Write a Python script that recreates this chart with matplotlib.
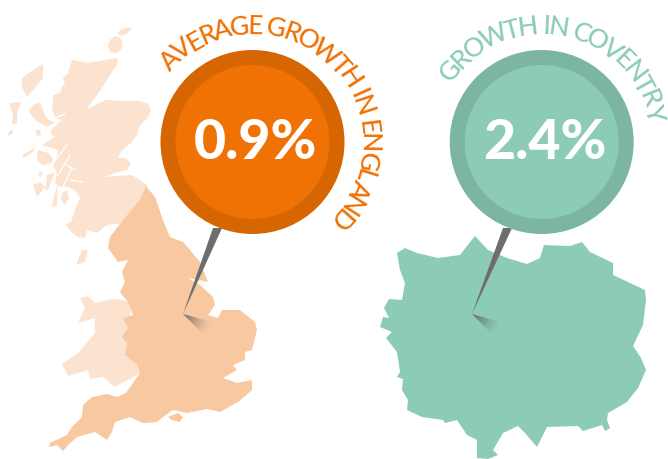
#!/usr/bin/env python
"""Two pin-on-map callouts: average growth in England vs growth in Coventry."""
import numpy as np
import matplotlib
matplotlib.use("Agg")
import matplotlib.pyplot as plt
from matplotlib.font_manager import FontProperties
from matplotlib.patches import Circle, Polygon

W, H = 668, 459

ENG_LABEL = "AVERAGE GROWTH IN ENGLAND"
COV_LABEL = "GROWTH IN COVENTRY"
ENG_VALUE = "0.9%"
COV_VALUE = "2.4%"

ORANGE, ORANGE_RING = "#f07104", "#d66602"
TEAL, TEAL_RING = "#8ccbb7", "#7cb5a4"
ENG_FILL, PALE_FILL = "#f8c9a0", "#fce3d0"
PIN = "#6d6d6d"

# outlines, in image pixels
SCOTLAND = [(118, 58), (117, 65), (112, 72), (107, 80), (100, 91), (93, 100), (87, 109),
            (100, 103), (106, 100), (125, 101), (140, 101), (148, 104), (151, 110),
            (148, 118), (140, 125), (137, 135), (131, 143), (122, 150), (118, 158),
            (125, 158), (131, 163), (127, 170), (118, 172), (104, 177), (118, 176),
            (132, 175), (147, 185), (142, 200), (123, 223), (107, 225), (97, 233),
            (87, 230), (85, 238), (78, 237), (72, 233), (68, 228), (66, 224), (71, 222),
            (75, 210), (80, 198), (75, 190), (68, 187), (60, 187), (55, 183), (57, 173),
            (53, 165), (56, 158), (58, 150), (45, 146), (42, 145), (55, 137), (50, 133),
            (53, 128), (62, 120), (55, 118), (52, 108), (53, 102), (53, 95), (60, 93),
            (62, 87), (65, 83), (63, 78), (68, 73), (72, 60), (88, 63), (105, 60)]
SEA_LOCHS = [[(53, 163), (67, 145)], [(58, 175), (70, 155)], [(63, 187), (72, 168)],
             [(70, 180), (82, 182)], [(55, 118), (65, 114)], [(66, 165), (75, 170)]]
ORKNEY = [(110, 40), (115, 36), (120, 38), (123, 42), (121, 50), (117, 53), (110, 52), (108, 45)]
SHETLAND = [(117, 33), (122, 29), (132, 27), (128, 33), (121, 36)]
LEWIS = [(22, 78), (30, 72), (43, 64), (43, 78), (35, 88), (27, 97), (22, 87)]
UIST = [(10, 103), (21, 102), (17, 112), (17, 123), (12, 125), (13, 113), (10, 107)]
BARRA = [(7, 135), (12, 129), (13, 133), (8, 136)]
SKYE = [(29, 110), (33, 105), (40, 102), (45, 115), (48, 120), (55, 122), (47, 127),
        (40, 123), (35, 120), (30, 113)]
RUM = [(35, 130), (40, 130), (41, 135), (37, 136)]
TIREE = [(22, 155), (35, 148), (34, 151), (24, 158)]
MULL = [(38, 150), (48, 153), (53, 158), (52, 163), (42, 165), (37, 160)]
ISLAY = [(33, 185), (40, 182), (45, 187), (37, 197)]
COLONSAY = [(38, 173), (43, 172), (40, 178)]
JURA = [(47, 175), (55, 172), (48, 190), (45, 190)]
KINTYRE = [(52, 208), (57, 205), (58, 183), (53, 200)]
ARRAN = [(62, 193), (67, 190), (69, 198), (65, 205), (61, 200)]
WALES = [(132, 303), (122, 300), (113, 299), (95, 303), (88, 296), (80, 298), (85, 308),
         (78, 323), (95, 318), (95, 333), (78, 353), (62, 364), (68, 376), (88, 370),
         (90, 379), (103, 377), (115, 387), (140, 373), (137, 365), (125, 355)]
MAN = [(76, 265), (82, 250), (88, 250), (85, 262)]
ENGLAND = [(146, 186), (155, 197), (163, 220), (170, 237), (183, 242), (190, 250), (200, 262),
           (208, 282), (188, 278), (200, 285), (213, 297), (215, 305), (208, 315), (218, 318),
           (222, 310), (240, 310), (255, 322), (257, 330), (252, 350), (245, 352), (245, 360),
           (233, 365), (237, 370), (223, 378), (237, 383), (252, 380), (252, 390), (238, 402),
           (220, 412), (207, 409), (187, 413), (173, 410), (163, 417), (157, 422), (143, 423),
           (130, 417), (115, 422), (112, 432), (107, 440), (95, 432), (77, 437), (68, 445),
           (63, 451), (57, 445), (49, 447), (50, 443), (67, 435), (72, 427), (82, 417),
           (83, 405), (92, 397), (107, 394), (117, 397), (126, 393), (140, 373), (137, 365),
           (125, 355), (127, 343), (122, 337), (128, 328), (123, 318), (133, 315), (128, 302),
           (120, 292), (125, 282), (122, 272), (128, 260), (118, 262), (108, 248), (110, 237),
           (123, 220), (140, 200)]
WIGHT = [(168, 417), (178, 413), (183, 417), (180, 422), (172, 420)]
COVENTRY = [(475, 236), (488, 250), (507, 258), (527, 264), (540, 258), (544, 245), (570, 246),
            (582, 242), (590, 252), (613, 263), (613, 275), (630, 283), (645, 290), (646, 300),
            (643, 325), (633, 346), (641, 358), (646, 370), (638, 388), (627, 402), (608, 413),
            (607, 420), (610, 428), (605, 431), (602, 425), (583, 431), (578, 426), (547, 427),
            (537, 447), (525, 433), (518, 426), (503, 433), (493, 450), (498, 455), (488, 459),
            (477, 458), (477, 440), (467, 435), (457, 420), (445, 423), (443, 420), (422, 417),
            (407, 410), (408, 400), (402, 390), (403, 379), (397, 377), (400, 372), (397, 352),
            (386, 338), (392, 332), (380, 327), (383, 317), (389, 318), (384, 308), (389, 299),
            (402, 300), (405, 283), (400, 270), (397, 253), (405, 248), (417, 253), (438, 258),
            (460, 255)]


def curved_label(ax, renderer, s, cx, cy, r, a0, a1, color, prop):
    # one rotated text per letter, spread between two angles measured from 12 o'clock
    w = lambda t: renderer.get_text_width_height_descent(t, prop, False)[0]
    total = w(s)
    for i, ch in enumerate(s):
        mid = w(s[:i + 1]) - w(ch) / 2
        a = np.radians(a0 + (a1 - a0) * mid / total)
        ax.text(cx + r * np.sin(a), cy - r * np.cos(a), ch, color=color, fontproperties=prop,
                rotation=-np.degrees(a), rotation_mode="anchor", ha="center", va="baseline")


def pin(ax, cx, cy, tip, base_l, base_r, ring, fill, value):
    # soft shadow falling away from the tip
    x0, y0 = tip
    xx, yy = np.meshgrid(np.linspace(x0, x0 + 40, 80), np.linspace(y0, y0 + 30, 60))
    d = np.hypot(xx - x0, yy - y0) / 30
    img = np.zeros(xx.shape + (4,))
    img[..., :3] = 0.38
    img[..., 3] = np.clip(0.9 * (1 - d) ** 1.3, 0, 1)
    im = ax.imshow(img, extent=(x0, x0 + 40, y0 + 30, y0), zorder=3, interpolation="bilinear")
    im.set_clip_path(Polygon([tip, (x0 + 32, y0 + 9), (x0 + 21, y0 + 21)], transform=ax.transData))
    ax.add_patch(Polygon([tip, base_l, base_r], fc=PIN, ec="none", zorder=4))
    ax.add_patch(Circle((cx, cy), 92, fc=ring, ec="none", zorder=5))
    ax.add_patch(Circle((cx, cy), 77, fc=fill, ec="none", zorder=6))
    ax.text(cx + 3, cy + 17, value, color="white", fontsize=40, family="Lato", weight="black",
            ha="center", va="baseline", zorder=7)


def main():
    fig = plt.figure(figsize=(W / 100, H / 100), dpi=100)
    ax = fig.add_axes([0, 0, 1, 1])

    for shape in [SCOTLAND, ORKNEY, SHETLAND, LEWIS, UIST, BARRA, SKYE, RUM, TIREE, MULL, ISLAY,
                  COLONSAY, JURA, KINTYRE, ARRAN, WALES, MAN]:
        ax.fill(*zip(*shape), color=PALE_FILL, lw=0, zorder=1)
    for loch in SEA_LOCHS:
        ax.plot(*zip(*loch), color="white", lw=0.9, zorder=1.5)
    for shape in [ENGLAND, WIGHT]:
        ax.fill(*zip(*shape), color=ENG_FILL, lw=0, zorder=2)
    ax.fill(*zip(*COVENTRY), color=TEAL, lw=0, zorder=1)

    pin(ax, 252.5, 142, (183, 314), (213, 228), (222, 228), ORANGE_RING, ORANGE, ENG_VALUE)
    pin(ax, 541.7, 142, (472, 314), (503, 228), (512, 228), TEAL_RING, TEAL, COV_VALUE)

    renderer = fig.canvas.get_renderer()
    prop = FontProperties(family="Lato", size=19, weight="medium")
    curved_label(ax, renderer, ENG_LABEL, 252.5, 142, 108, -49, 136, ORANGE, prop)
    curved_label(ax, renderer, COV_LABEL, 541.7, 142, 108, -56, 79, TEAL, prop)

    ax.set_xlim(0, W)
    ax.set_ylim(H, 0)
    ax.set_aspect("auto")
    ax.axis("off")
    fig.savefig("out.png", dpi=100)


if __name__ == "__main__":
    main()
